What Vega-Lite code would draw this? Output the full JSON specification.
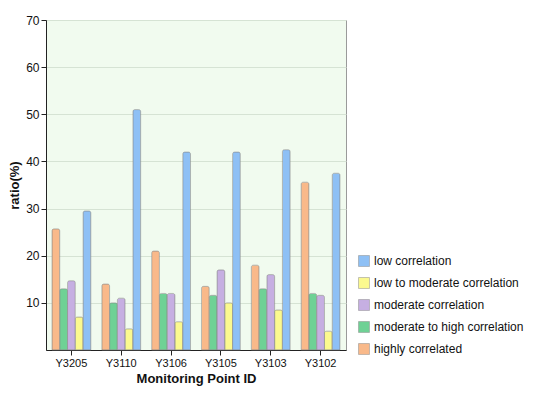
{
  "$schema": "https://vega.github.io/schema/vega-lite/v6.json",
  "width": 300,
  "height": 330,
  "padding": {"left": 8, "top": 14, "right": 4, "bottom": 6},
  "background": "white",
  "config": {
    "font": "Liberation Sans",
    "view": {"fill": "#f1fbef", "stroke": "#9a9a9a"},
    "axis": {"labelFontSize": 12, "titleFontSize": 13, "titleFontWeight": "bold", "labelColor": "#111", "titleColor": "#111", "domainColor": "#222", "tickColor": "#222", "gridColor": "#d6e3d4"},
    "legend": {"labelFontSize": 12, "labelColor": "#111"}
  },
  "data": {
    "values": [
      {"point": "Y3205", "level": "highly correlated", "ratio": 25.7},
      {"point": "Y3205", "level": "moderate to high correlation", "ratio": 13},
      {"point": "Y3205", "level": "moderate correlation", "ratio": 14.7},
      {"point": "Y3205", "level": "low to moderate correlation", "ratio": 7},
      {"point": "Y3205", "level": "low correlation", "ratio": 29.5},
      {"point": "Y3110", "level": "highly correlated", "ratio": 14},
      {"point": "Y3110", "level": "moderate to high correlation", "ratio": 10},
      {"point": "Y3110", "level": "moderate correlation", "ratio": 11},
      {"point": "Y3110", "level": "low to moderate correlation", "ratio": 4.5},
      {"point": "Y3110", "level": "low correlation", "ratio": 51},
      {"point": "Y3106", "level": "highly correlated", "ratio": 21},
      {"point": "Y3106", "level": "moderate to high correlation", "ratio": 12},
      {"point": "Y3106", "level": "moderate correlation", "ratio": 12},
      {"point": "Y3106", "level": "low to moderate correlation", "ratio": 6},
      {"point": "Y3106", "level": "low correlation", "ratio": 42},
      {"point": "Y3105", "level": "highly correlated", "ratio": 13.5},
      {"point": "Y3105", "level": "moderate to high correlation", "ratio": 11.6},
      {"point": "Y3105", "level": "moderate correlation", "ratio": 17},
      {"point": "Y3105", "level": "low to moderate correlation", "ratio": 10},
      {"point": "Y3105", "level": "low correlation", "ratio": 42},
      {"point": "Y3103", "level": "highly correlated", "ratio": 18},
      {"point": "Y3103", "level": "moderate to high correlation", "ratio": 13},
      {"point": "Y3103", "level": "moderate correlation", "ratio": 16},
      {"point": "Y3103", "level": "low to moderate correlation", "ratio": 8.5},
      {"point": "Y3103", "level": "low correlation", "ratio": 42.5},
      {"point": "Y3102", "level": "highly correlated", "ratio": 35.6},
      {"point": "Y3102", "level": "moderate to high correlation", "ratio": 12},
      {"point": "Y3102", "level": "moderate correlation", "ratio": 11.6},
      {"point": "Y3102", "level": "low to moderate correlation", "ratio": 4},
      {"point": "Y3102", "level": "low correlation", "ratio": 37.5}
    ]
  },
  "mark": {"type": "bar", "stroke": "#8a8a8a", "strokeWidth": 0.5, "cornerRadiusTopLeft": 2, "cornerRadiusTopRight": 2},
  "encoding": {
    "x": {
      "field": "point",
      "type": "nominal",
      "title": "Monitoring Point ID",
      "sort": ["Y3205", "Y3110", "Y3106", "Y3105", "Y3103", "Y3102"],
      "scale": {"paddingInner": 0.22, "paddingOuter": 0.12},
      "axis": {"labelAngle": 0, "labelFontSize": 11}
    },
    "xOffset": {
      "field": "level",
      "type": "nominal",
      "sort": ["highly correlated", "moderate to high correlation", "moderate correlation", "low to moderate correlation", "low correlation"]
    },
    "y": {
      "field": "ratio",
      "type": "quantitative",
      "title": "ratio(%)",
      "scale": {"domain": [0, 70]},
      "axis": {"values": [10, 20, 30, 40, 50, 60, 70], "grid": true}
    },
    "color": {
      "field": "level",
      "type": "nominal",
      "title": null,
      "sort": ["low correlation", "low to moderate correlation", "moderate correlation", "moderate to high correlation", "highly correlated"],
      "scale": {
        "domain": ["low correlation", "low to moderate correlation", "moderate correlation", "moderate to high correlation", "highly correlated"],
        "range": ["#8ec0f5", "#fbf98f", "#c6afe2", "#6fd195", "#f9b98a"]
      },
      "legend": {"orient": "none", "legendX": 312, "legendY": 235, "rowPadding": 8, "symbolType": "square", "symbolSize": 120, "symbolStrokeColor": "#8a8a8a", "symbolStrokeWidth": 0.5}
    }
  }
}
